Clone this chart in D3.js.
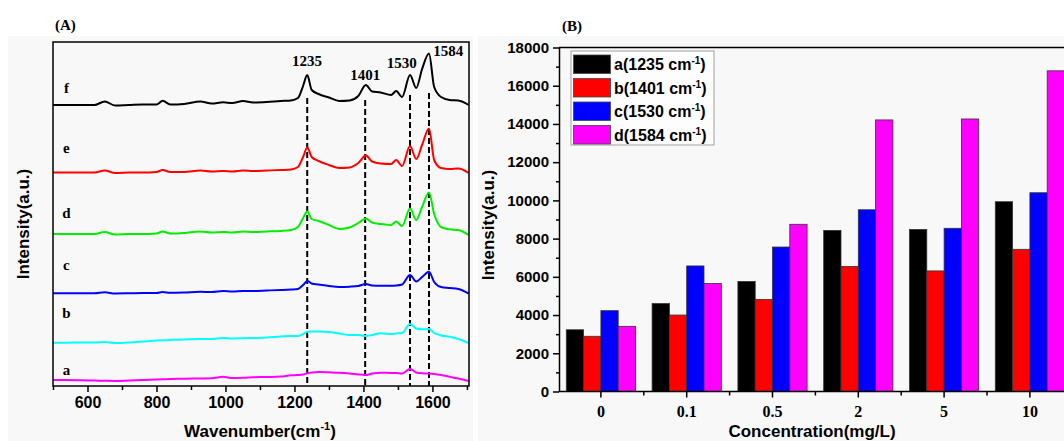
<!DOCTYPE html>
<html>
<head>
<meta charset="utf-8">
<script src="https://cdn.jsdelivr.net/npm/d3@7"></script>
<style>
  body { margin: 0; background: #fff; }
  svg { display: block; }
  .sans { font-family: "Liberation Sans", Arial, sans-serif; font-weight: bold; }
  .serif { font-family: "Liberation Serif", "Times New Roman", serif; font-weight: bold; }
</style>
</head>
<body>
<svg id="chart" width="1064" height="441"></svg>
<script>
// ---- panel A: stacked Raman spectra (arbitrary units, offsets included) ----
const wavenumbers = [500, 540, 580, 620, 650, 680, 720, 760, 800, 818, 840, 880, 927, 960, 993, 1020, 1051, 1080, 1120, 1160,
  1190, 1210, 1225, 1237, 1250, 1270, 1300, 1330, 1360, 1385, 1407, 1425, 1450, 1480, 1495, 1512, 1535, 1553, 1570, 1590,
  1605, 1625, 1650, 1675, 1705]

const specA = [6, 6, 5.7, 5.5, 5.2, 5, 5.5, 6, 6.5, 6.7, 7, 7.2, 7.5, 7.7, 9.2, 8, 8.2, 8.7, 9, 9.5,
  10.7, 11, 11.5, 12.7, 13.5, 14, 13.7, 13.3, 12.5, 11.5, 11, 12.5, 13.3, 13, 13, 12.5, 17, 13.5, 12.7, 12.5,
  12, 11, 9.3, 7.5, 5]
const specB = [43.3, 43.3, 43.5, 43.5, 44, 43, 43.5, 44.5, 45.5, 45.7, 46, 46.5, 47, 47, 48, 47.5, 47.7, 48, 48.5, 49.5,
  50, 50, 52, 54.3, 54.5, 54.5, 54, 52.5, 51, 51, 50, 51, 52.7, 52, 52.5, 53, 62, 57.5, 56.7, 57,
  53, 50.5, 49.3, 47, 43]
const specC = [92.7, 92.7, 92.7, 92.7, 93.7, 92.5, 92.7, 93, 93, 94, 93.2, 93.5, 94.2, 94, 95, 94.5, 95, 95, 95.5, 96,
  96.5, 97, 101, 105, 102.5, 101.5, 100, 99, 99.3, 100, 102, 100.5, 100.3, 100.3, 100.5, 101.5, 111, 104.5, 109, 114.3,
  104, 99, 98, 97, 92.5]
const specD = [152, 152, 152, 152, 154, 151.5, 152, 152, 152.5, 154.5, 152.5, 153, 154.5, 153.5, 154, 153.5, 154.5, 154, 154.5, 155,
  156, 159, 168, 174.5, 167, 165, 161, 157, 158.5, 163, 167.5, 163.5, 162, 161, 164.5, 160, 177.5, 166, 179, 193.5,
  172, 159, 156.7, 156, 151]
const specE = [213.5, 213.5, 213.5, 213.5, 215.5, 213, 213.5, 213.5, 214, 216, 214, 214, 215.5, 214.5, 215, 214.5, 215.5, 215, 215.5, 216,
  216.5, 219, 229, 238.5, 229, 225, 221, 218, 218.5, 223, 230.5, 224.5, 222.5, 222, 226, 220, 240, 227, 241, 257.5,
  226, 218, 217, 217.5, 213]
const specF = [281, 281, 281, 281, 284.5, 280.5, 281, 281.5, 281.5, 285.2, 281.5, 282, 284.5, 282.5, 283.7, 283, 285, 283.5, 284, 285,
  285.5, 288, 300, 311, 296, 292, 288.5, 285, 285.5, 290, 301, 294.5, 293.5, 291, 295, 289, 311, 298, 317, 332.5,
  299, 289, 286, 285.5, 281]

const traceNames = ['a', 'b', 'c', 'd', 'e', 'f']
const traceColors = ['#ff00ff', '#00ffff', '#0000ff', '#00ee00', '#ff0000', '#000000']
const traceLabelLevel = [11, 68, 116, 168, 233, 293]

const peakNames = ['1235', '1401', '1530', '1584']
const peakLines = [1237, 1405, 1535, 1590]
const peakLineTop = [288, 286, 291, 293]
const peakLabelWn = [1236, 1405, 1511, 1646]
const peakLabelLevel = [320, 306, 318, 330]

// ---- panel B: grouped bars ----
const concentrations = ['0', '0.1', '0.5', '2', '5', '10']
const barSeries = ['a', 'b', 'c', 'd']
const barPeaks = ['1235', '1401', '1530', '1584']
const barColors = ['#000000', '#ff0000', '#0000ff', '#ff00ff']
const band1235 = [3230, 4600, 5760, 8430, 8480, 9930]
const band1401 = [2890, 4000, 4820, 6540, 6310, 7440]
const band1530 = [4230, 6570, 7560, 9510, 8540, 10400]
const band1584 = [3410, 5650, 8750, 14210, 14260, 16780]

const svg = d3.select('#chart')

svg.append('rect').attr('x', 8).attr('y', 36).attr('width', 465).attr('height', 405).attr('fill', '#f8f8f8')
svg.append('rect').attr('x', 478).attr('y', 36).attr('width', 586).attr('height', 405).attr('fill', '#f8f8f8')

// ================= panel A =================
const xA = d3.scaleLinear().domain([500, 1706]).range([53, 469])
const yA = d3.scaleLinear().domain([0, 344]).range([386, 42])

const spectra = [specA, specB, specC, specD, specE, specF]
const line = d3.line()
  .x((d, i) => xA(wavenumbers[i]))
  .y(d => yA(d))
  .curve(d3.curveMonotoneX)

svg.append('g')
  .selectAll('line')
  .data(peakLines)
  .enter()
  .append('line')
  .attr('x1', d => xA(d))
  .attr('x2', d => xA(d))
  .attr('y1', (d, i) => yA(peakLineTop[i]))
  .attr('y2', yA(0))
  .attr('stroke', '#000')
  .attr('stroke-width', 2)
  .attr('stroke-dasharray', '6,3')

svg.append('g')
  .selectAll('path')
  .data(spectra)
  .enter()
  .append('path')
  .attr('d', d => line(d))
  .attr('fill', 'none')
  .attr('stroke', (d, i) => traceColors[i])
  .attr('stroke-width', 2)
  .attr('stroke-linejoin', 'round')

svg.append('rect')
  .attr('x', xA(500))
  .attr('y', yA(344))
  .attr('width', xA(1706) - xA(500))
  .attr('height', yA(0) - yA(344))
  .attr('fill', 'none')
  .attr('stroke', '#000')
  .attr('stroke-width', 1.5)

const axA = svg.append('g')
  .attr('transform', `translate(0,${yA(0)})`)
  .call(d3.axisBottom(xA).tickValues(d3.range(600, 1601, 200)).tickSize(6).tickPadding(5).tickFormat(d3.format('d')))
axA.select('.domain').remove()
axA.selectAll('line').attr('stroke-width', 1.5)
axA.selectAll('text').attr('class', 'sans').attr('font-size', 16).attr('fill', '#000')

const axAminor = svg.append('g')
  .attr('transform', `translate(0,${yA(0)})`)
  .call(d3.axisBottom(xA).tickValues(d3.range(500, 1701, 200)).tickSize(4).tickFormat(''))
axAminor.select('.domain').remove()
axAminor.selectAll('line').attr('stroke-width', 1.5)

svg.append('g')
  .selectAll('text')
  .data(traceNames)
  .enter()
  .append('text')
  .attr('class', 'serif')
  .attr('font-size', 15)
  .attr('text-anchor', 'middle')
  .attr('x', xA(539))
  .attr('y', (d, i) => yA(traceLabelLevel[i]))
  .text(d => d)

svg.append('g')
  .selectAll('text')
  .data(peakNames)
  .enter()
  .append('text')
  .attr('class', 'serif')
  .attr('font-size', 15)
  .attr('text-anchor', 'middle')
  .attr('x', (d, i) => xA(peakLabelWn[i]))
  .attr('y', (d, i) => yA(peakLabelLevel[i]))
  .text(d => d)

svg.append('text').attr('class', 'serif').attr('font-size', 15)
  .attr('x', 55).attr('y', 30).text('(A)')

const titleA = svg.append('text').attr('class', 'sans').attr('font-size', 17)
  .attr('text-anchor', 'middle').attr('x', 260).attr('y', 437)
titleA.append('tspan').text('Wavenumber(cm')
titleA.append('tspan').attr('font-size', 11).attr('dy', -7).text('-1')
titleA.append('tspan').attr('dy', 7).text(')')

svg.append('text').attr('class', 'sans').attr('font-size', 17)
  .attr('text-anchor', 'middle')
  .attr('transform', 'translate(29,224) rotate(-90)')
  .text('Intensity(a.u.)')

// ================= panel B =================
const yB = d3.scaleLinear().domain([0, 18000]).range([391.5, 47.5])
const x0 = d3.scaleBand().domain(concentrations).range([558, 558 + 6 * 85.8]).padding(0)
const x1 = d3.scaleBand().domain(barSeries).range([0, x0.bandwidth()]).paddingInner(0).paddingOuter(0.48)

const barValues = [band1235, band1401, band1530, band1584]

barValues.forEach((vals, k) => {
  svg.append('g')
    .selectAll('rect')
    .data(vals)
    .enter()
    .append('rect')
    .attr('x', (d, i) => x0(concentrations[i]) + x1(barSeries[k]))
    .attr('y', d => yB(d))
    .attr('width', x1.bandwidth())
    .attr('height', d => yB(0) - yB(d))
    .attr('fill', barColors[k])
    .attr('stroke', '#333')
    .attr('stroke-width', 0.8)
})

// top frame line
svg.append('line')
  .attr('x1', 559).attr('x2', 1064)
  .attr('y1', yB(18000)).attr('y2', yB(18000))
  .attr('stroke', '#000').attr('stroke-width', 1.5)

const axBy = svg.append('g')
  .attr('transform', 'translate(559,0)')
  .call(d3.axisLeft(yB).tickValues(d3.range(0, 18001, 2000)).tickSize(6).tickSizeOuter(0).tickPadding(4).tickFormat(d3.format('d')))
axBy.selectAll('line, path').attr('stroke-width', 1.5)
axBy.selectAll('text').attr('class', 'sans').attr('font-size', 15).attr('fill', '#000')

const axByMinor = svg.append('g')
  .attr('transform', 'translate(559,0)')
  .call(d3.axisLeft(yB).tickValues(d3.range(1000, 18000, 2000)).tickSize(3).tickFormat(''))
axByMinor.select('.domain').remove()
axByMinor.selectAll('line').attr('stroke-width', 1.5)

const axBx = svg.append('g')
  .attr('transform', `translate(0,${yB(0)})`)
  .call(d3.axisBottom(x0).tickSize(6).tickSizeOuter(0).tickPadding(8))
axBx.selectAll('line, path').attr('stroke-width', 1.5)
axBx.select('.domain').attr('d', `M559,0H1064`)
axBx.selectAll('text').attr('class', 'serif').attr('font-size', 16).attr('fill', '#000')

svg.append('g')
  .selectAll('line')
  .data(concentrations.slice(1))
  .enter()
  .append('line')
  .attr('x1', d => x0(d))
  .attr('x2', d => x0(d))
  .attr('y1', yB(0))
  .attr('y2', yB(0) + 4)
  .attr('stroke', '#000')
  .attr('stroke-width', 1.5)

// legend
const legend = svg.append('g')
legend.append('rect')
  .attr('x', 571).attr('y', 51).attr('width', 143).attr('height', 94)
  .attr('fill', '#fdfdfd').attr('stroke', '#a0a0a0').attr('stroke-width', 1)

barSeries.forEach((s, i) => {
  legend.append('rect')
    .attr('x', 573.5).attr('y', 55 + i * 23.5)
    .attr('width', 37).attr('height', 18.5)
    .attr('fill', barColors[i]).attr('stroke', '#444').attr('stroke-width', 0.8)
  const t = legend.append('text').attr('class', 'sans').attr('font-size', 16)
    .attr('x', 614).attr('y', 55 + i * 23.5 + 15)
  t.append('tspan').text(`${s}(${barPeaks[i]} cm`)
  t.append('tspan').attr('font-size', 10).attr('dy', -6).text('-1')
  t.append('tspan').attr('dy', 6).text(')')
})

svg.append('text').attr('class', 'serif').attr('font-size', 15)
  .attr('x', 562).attr('y', 31).text('(B)')

svg.append('text').attr('class', 'sans').attr('font-size', 17)
  .attr('text-anchor', 'middle').attr('x', 812).attr('y', 437)
  .text('Concentration(mg/L)')

svg.append('text').attr('class', 'sans').attr('font-size', 17)
  .attr('text-anchor', 'middle')
  .attr('transform', 'translate(494,225) rotate(-90)')
  .text('Intensity(a.u.)')
</script>
</body>
</html>
